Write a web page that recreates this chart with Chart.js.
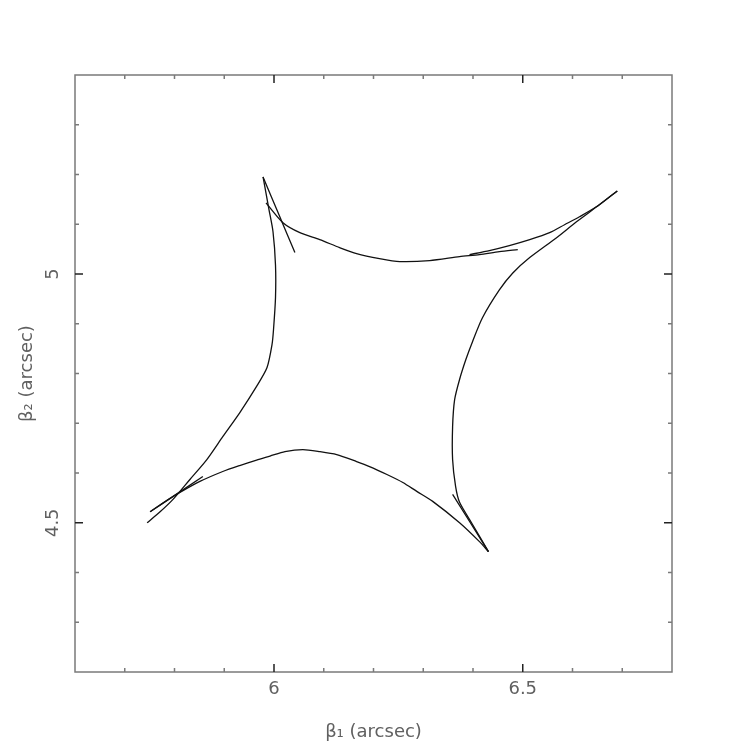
<!DOCTYPE html>
<html>
<head>
<meta charset="utf-8">
<script src="https://cdn.jsdelivr.net/npm/chart.js@4/dist/chart.umd.min.js"></script>
<style>
  body { margin: 0; background: #fff; }
</style>
</head>
<body>
<canvas id="caustic" width="747" height="747"></canvas>
<script>
// axis ranges and tick labels
const xRange = [5.6, 6.8];
const yRange = [4.2, 5.4];
const xTickLabels = [6, 6.5];
const yTickLabels = [4.5, 5];

// left arc, from lower-left end up to upper-left cusp
const leftArcX = [5.745, 5.771, 5.797, 5.831, 5.865, 5.897, 5.931, 5.965, 5.986, 5.996, 5.999, 6.003, 6.003, 5.998, 5.990, 5.978];
const leftArcY = [4.500, 4.522, 4.547, 4.587, 4.627, 4.673, 4.721, 4.774, 4.812, 4.858, 4.888, 4.952, 5.018, 5.085, 5.129, 5.195];

// short spur at the upper-left cusp
const spurULX = [5.978, 6.010, 6.042];
const spurULY = [5.195, 5.119, 5.043];

// top arc, from the left
const topArcX = [5.984, 6.018, 6.052, 6.092, 6.132, 6.166, 6.212, 6.253, 6.313, 6.373, 6.413, 6.453, 6.490];
const topArcY = [5.143, 5.103, 5.083, 5.069, 5.053, 5.041, 5.031, 5.025, 5.027, 5.035, 5.039, 5.045, 5.049];

// top arc, from the upper-right cusp leftwards
const topRightX = [6.690, 6.648, 6.614, 6.584, 6.554, 6.514, 6.473, 6.433, 6.393];
const topRightY = [5.167, 5.135, 5.115, 5.099, 5.083, 5.069, 5.057, 5.047, 5.039];

// right arc, upper-right cusp down to lower-right cusp
const rightArcX = [6.690, 6.654, 6.608, 6.568, 6.514, 6.480, 6.453, 6.419, 6.399, 6.386, 6.373, 6.363, 6.359, 6.359, 6.365, 6.373, 6.397, 6.431];
const rightArcY = [5.167, 5.139, 5.105, 5.073, 5.033, 5.002, 4.968, 4.912, 4.864, 4.829, 4.788, 4.747, 4.693, 4.627, 4.573, 4.541, 4.500, 4.442];

// spur at the lower-right cusp
const spurLRX = [6.359, 6.431];
const spurLRY = [4.557, 4.442];

// bottom arc, lower-right cusp to lower-left cusp
const bottomArcX = [6.431, 6.413, 6.373, 6.319, 6.287, 6.259, 6.227, 6.192, 6.166, 6.126, 6.092, 6.058, 6.022, 5.992, 5.965, 5.931, 5.897, 5.851, 5.811, 5.785, 5.751];
const bottomArcY = [4.442, 4.462, 4.500, 4.543, 4.563, 4.581, 4.597, 4.613, 4.623, 4.637, 4.643, 4.647, 4.643, 4.634, 4.626, 4.615, 4.603, 4.583, 4.561, 4.545, 4.522];

// spur at the lower-left cusp
const spurLLX = [5.751, 5.857];
const spurLLY = [4.522, 4.593];

const segments = [
  [leftArcX, leftArcY],
  [spurULX, spurULY],
  [topArcX, topArcY],
  [topRightX, topRightY],
  [rightArcX, rightArcY],
  [spurLRX, spurLRY],
  [bottomArcX, bottomArcY],
  [spurLLX, spurLLY]
];

const toPoints = (xs, ys) => xs.map((x, i) => ({ x: x, y: ys[i] }));

const axisColor = '#7a7a7a';
const labelColor = '#606060';
const fontFamily = "'DejaVu Sans', 'Liberation Sans', sans-serif";

// frame with inward ticks on all four sides
const frameTicks = {
  id: 'frameTicks',
  afterDraw(chart) {
    const { ctx, chartArea: a, scales } = chart;
    ctx.save();
    ctx.strokeStyle = axisColor;
    ctx.lineWidth = 1.5;
    ctx.strokeRect(a.left, a.top, a.right - a.left, a.bottom - a.top);
    const drawTicks = (scale, lo, hi, horizontal) => {
      for (let i = Math.round(lo * 10); i <= Math.round(hi * 10); i++) {
        const v = i / 10;
        const major = i % 5 === 0;
        const len = major ? 8 : 4;
        const p = scale.getPixelForValue(v);
        ctx.strokeStyle = major ? '#222' : axisColor;
        ctx.beginPath();
        if (horizontal) {
          ctx.moveTo(p, a.bottom); ctx.lineTo(p, a.bottom - len);
          ctx.moveTo(p, a.top); ctx.lineTo(p, a.top + len);
        } else {
          ctx.moveTo(a.left, p); ctx.lineTo(a.left + len, p);
          ctx.moveTo(a.right, p); ctx.lineTo(a.right - len, p);
        }
        ctx.stroke();
      }
    };
    drawTicks(scales.x, xRange[0] + 0.1, xRange[1] - 0.1, true);
    drawTicks(scales.y, yRange[0] + 0.1, yRange[1] - 0.1, false);
    ctx.restore();
  }
};

new Chart(document.getElementById('caustic'), {
  type: 'scatter',
  data: {
    datasets: segments.map(s => ({
      data: toPoints(s[0], s[1]),
      showLine: true,
      borderColor: '#111',
      borderWidth: 1.3,
      pointRadius: 0,
      tension: 0.25,
      fill: false
    }))
  },
  options: {
    responsive: false,
    animation: false,
    layout: { padding: { top: 75, right: 75, left: 0, bottom: 0 } },
    plugins: {
      legend: { display: false },
      tooltip: { enabled: false }
    },
    scales: {
      x: {
        type: 'linear',
        min: xRange[0],
        max: xRange[1],
        afterBuildTicks: scale => { scale.ticks = xTickLabels.map(v => ({ value: v })); },
        afterFit: scale => { scale.height = 75; },
        grid: { display: false, drawTicks: false },
        border: { display: false },
        ticks: {
          padding: 7,
          color: labelColor,
          font: { family: fontFamily, size: 18 },
          callback: v => String(v)
        },
        title: {
          display: true,
          text: 'β₁ (arcsec)',
          color: labelColor,
          font: { family: fontFamily, size: 18 },
          padding: { top: 0, bottom: 4 }
        }
      },
      y: {
        type: 'linear',
        min: yRange[0],
        max: yRange[1],
        afterBuildTicks: scale => { scale.ticks = yTickLabels.map(v => ({ value: v })); },
        afterFit: scale => { scale.width = 75; },
        grid: { display: false, drawTicks: false },
        border: { display: false },
        ticks: {
          padding: 7,
          minRotation: 90,
          maxRotation: 90,
          crossAlign: 'center',
          color: labelColor,
          font: { family: fontFamily, size: 18 },
          callback: v => String(v)
        },
        title: {
          display: true,
          text: 'β₂ (arcsec)',
          color: labelColor,
          font: { family: fontFamily, size: 18 },
          padding: { top: 17, bottom: 0 }
        }
      }
    }
  },
  plugins: [frameTicks]
});
</script>
</body>
</html>
